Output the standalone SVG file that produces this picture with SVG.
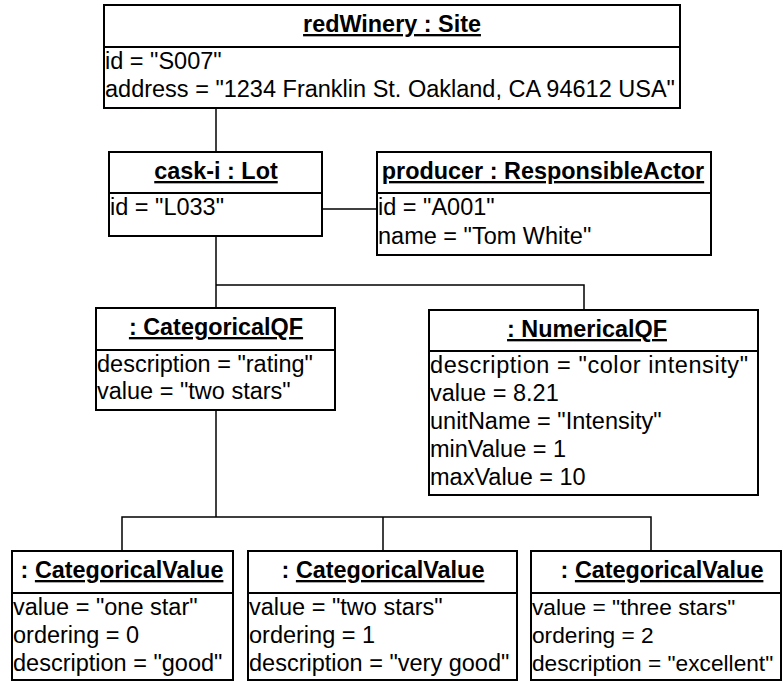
<svg xmlns="http://www.w3.org/2000/svg" width="783" height="682" viewBox="0 0 783 682">
  <style>
    .box { fill: #ffffff; stroke: #000000; stroke-width: 2; }
    .sep { stroke: #000000; stroke-width: 2; }
    .link { fill: none; stroke: #000000; stroke-width: 1.5; }
    .title { font-family: "Liberation Sans", Arial, sans-serif; font-size: 23.4px; font-weight: bold; fill: #000000; text-anchor: middle; }
    .u { text-decoration: underline; }
    .attr { font-family: "Liberation Sans", Arial, sans-serif; font-size: 23.5px; fill: #000000; }
    .attr.small { font-size: 22.7px; }
  </style>
  <rect width="783" height="682" fill="#ffffff"/>

  <!-- links between objects -->
  <g id="connectors">
    <path class="link" d="M216 108 V152"/>
    <path class="link" d="M322 209 H377"/>
    <path class="link" d="M216 236 V308"/>
    <path class="link" d="M216 285 H584 V310"/>
    <path class="link" d="M216 410 V517"/>
    <path class="link" d="M122 551 V517 H651 V551"/>
    <path class="link" d="M383 517 V551"/>
  </g>

  <g id="redWinery">
    <rect class="box" x="104" y="5" width="576" height="103"/>
    <line class="sep" x1="104" y1="47" x2="680" y2="47"/>
    <text class="title u" x="392" y="32">redWinery : Site</text>
    <text class="attr" x="105" y="69">id = "S007"</text>
    <text class="attr" x="105" y="97">address = "1234 Franklin St. Oakland, CA 94612 USA"</text>
  </g>

  <g id="caskLot">
    <rect class="box" x="109" y="152" width="213" height="84"/>
    <line class="sep" x1="109" y1="193" x2="322" y2="193"/>
    <text class="title u" x="216" y="179">cask-i : Lot</text>
    <text class="attr" x="110" y="215">id = "L033"</text>
  </g>

  <g id="producer">
    <rect class="box" x="377" y="152" width="334" height="103"/>
    <line class="sep" x1="377" y1="193" x2="711" y2="193"/>
    <text class="title u" x="543" y="179">producer : ResponsibleActor</text>
    <text class="attr" x="378" y="215">id = "A001"</text>
    <text class="attr" x="378" y="244">name = "Tom White"</text>
  </g>

  <g id="categoricalQF">
    <rect class="box" x="96" y="308" width="239" height="102"/>
    <line class="sep" x1="96" y1="350" x2="335" y2="350"/>
    <text class="title u" x="216" y="335">: CategoricalQF</text>
    <text class="attr" x="97" y="372">description = "rating"</text>
    <text class="attr" x="97" y="399">value = "two stars"</text>
  </g>

  <g id="numericalQF">
    <rect class="box" x="429" y="310" width="329" height="185"/>
    <line class="sep" x1="429" y1="351" x2="758" y2="351"/>
    <text class="title u" x="587" y="337">: NumericalQF</text>
    <text class="attr" x="430" y="373" textLength="318" lengthAdjust="spacing">description = "color intensity"</text>
    <text class="attr" x="430" y="401">value = 8.21</text>
    <text class="attr" x="430" y="429">unitName = "Intensity"</text>
    <text class="attr" x="430" y="457">minValue = 1</text>
    <text class="attr" x="430" y="485">maxValue = 10</text>
  </g>

  <g id="valueOneStar">
    <rect class="box" x="12" y="551" width="221" height="129"/>
    <line class="sep" x1="12" y1="593" x2="233" y2="593"/>
    <text class="title" x="122" y="578">: <tspan class="u">CategoricalValue</tspan></text>
    <text class="attr" x="13" y="615">value = "one star"</text>
    <text class="attr" x="13" y="643">ordering = 0</text>
    <text class="attr" x="13" y="671">description = "good"</text>
  </g>

  <g id="valueTwoStars">
    <rect class="box" x="248" y="551" width="269" height="129"/>
    <line class="sep" x1="248" y1="593" x2="517" y2="593"/>
    <text class="title" x="383" y="578">: <tspan class="u">CategoricalValue</tspan></text>
    <text class="attr" x="249" y="615">value = "two stars"</text>
    <text class="attr" x="249" y="643">ordering = 1</text>
    <text class="attr" x="249" y="671">description = "very good"</text>
  </g>

  <g id="valueThreeStars">
    <rect class="box" x="531" y="551" width="250" height="129"/>
    <line class="sep" x1="531" y1="593" x2="781" y2="593"/>
    <text class="title" x="662" y="578">: <tspan class="u">CategoricalValue</tspan></text>
    <text class="attr small" x="532" y="615">value = "three stars"</text>
    <text class="attr small" x="532" y="643">ordering = 2</text>
    <text class="attr small" x="532" y="671">description = "excellent"</text>
  </g>
</svg>
